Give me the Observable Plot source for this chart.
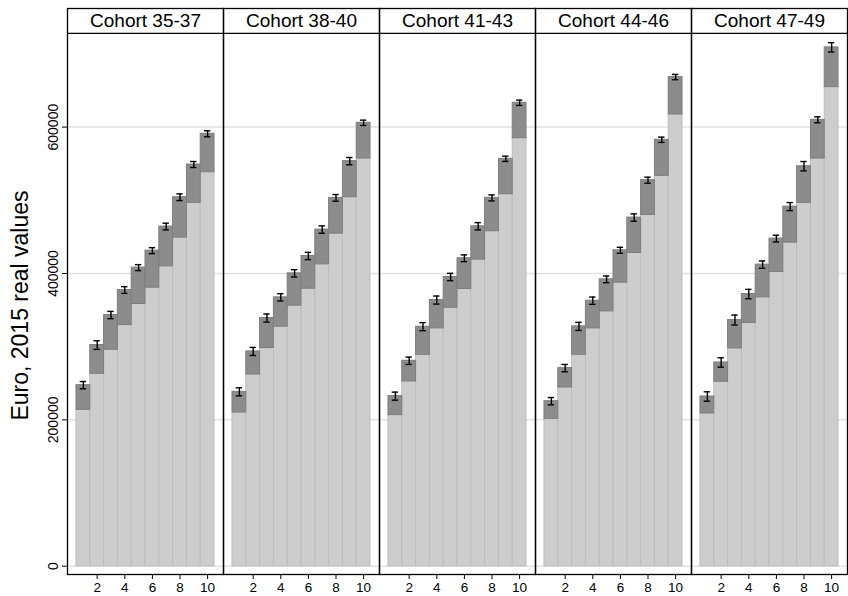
<!DOCTYPE html>
<html>
<head>
<meta charset="utf-8">
<script src="https://cdn.jsdelivr.net/npm/d3@7"></script>
<script src="https://cdn.jsdelivr.net/npm/@observablehq/plot@0.6"></script>
<style>
  html, body { margin: 0; padding: 0; background: #fff; }
  #chart svg { display: block; }
</style>
</head>
<body>
<div id="chart"></div>
<script>
// Facet categories
const cohorts = ["35-37", "38-40", "41-43", "44-46", "47-49"];
const deciles = [1, 2, 3, 4, 5, 6, 7, 8, 9, 10];

// Lower (light grey) component, by cohort
const base3537 = [213700, 262900, 295800, 329500, 358300, 380600, 409800, 449000, 496500, 538400];
const base3840 = [210000, 262000, 298100, 327300, 356000, 379200, 412500, 454500, 504200, 557100];
const base4143 = [206400, 252500, 288900, 325000, 353200, 378800, 418900, 457700, 508300, 584900];
const base4446 = [201400, 244200, 288900, 325000, 348200, 387500, 428000, 480000, 533400, 617300];
const base4749 = [208700, 252000, 297600, 332300, 367400, 402100, 442200, 496500, 557100, 654700];

// Total (top of dark grey segment), by cohort
const total3537 = [247400, 302200, 343200, 377400, 408000, 431200, 464100, 504200, 548900, 590900];
const total3840 = [238300, 293500, 339100, 367400, 400200, 423900, 460000, 503300, 553500, 605900];
const total4143 = [232400, 280700, 327300, 363700, 395200, 420800, 464500, 503300, 556700, 633300];
const total4446 = [225500, 270700, 327700, 362800, 392000, 431700, 476400, 527500, 582700, 668400];
const total4749 = [231900, 278400, 336400, 371900, 412100, 447700, 491400, 546600, 610000, 709000];

// Half-width of the confidence interval around the total
const err3537 = [5000, 5900, 5000, 4600, 4100, 4100, 4600, 4600, 4100, 4100];
const err3840 = [5500, 5500, 5500, 5000, 5000, 5000, 5000, 4600, 5000, 3600];
const err4143 = [5500, 5000, 5500, 5500, 5000, 4600, 5000, 4100, 3600, 3600];
const err4446 = [5000, 5000, 5500, 5000, 4600, 4100, 5000, 4100, 3600, 3600];
const err4749 = [6400, 6400, 6800, 6400, 5000, 4600, 5500, 6400, 4100, 6400];

// Tick labels
const xTicks = [2, 4, 6, 8, 10];
const yTicks = [0, 200000, 400000, 600000];
const yTitle = "Euro, 2015 real values";

const baseList = [base3537, base3840, base4143, base4446, base4749];
const totalList = [total3537, total3840, total4143, total4446, total4749];
const errList = [err3537, err3840, err4143, err4446, err4749];

const rows = [];
cohorts.forEach((c, ci) => {
  deciles.forEach((d, di) => {
    rows.push({
      cohort: c,
      decile: d,
      base: baseList[ci][di],
      total: totalList[ci][di],
      err: errList[ci][di]
    });
  });
});

// Layout constant: value at which the facet header strip begins
const headerBottom = 728000;
const font = "'Liberation Sans', Arial, Helvetica, sans-serif";

const chart = Plot.plot({
  width: 848,
  height: 596,
  marginLeft: 66,
  marginRight: 0,
  marginTop: 8,
  marginBottom: 22,
  style: { fontFamily: font, background: "#fff", color: "#000" },
  fx: { domain: cohorts, padding: 0, axis: null },
  x: { domain: [-0.15, 11.15] },
  y: { domain: [-11340, 762100] },
  marks: [
    Plot.ruleY(yTicks, { stroke: "#e2e2e2", strokeWidth: 1.5 }),
    Plot.rect(rows, {
      fx: "cohort",
      x1: d => d.decile - 0.5, x2: d => d.decile + 0.5,
      y1: 0, y2: "base",
      fill: "#cdcdcd", stroke: "#bcbcbc", strokeWidth: 1
    }),
    Plot.rect(rows, {
      fx: "cohort",
      x1: d => d.decile - 0.5, x2: d => d.decile + 0.5,
      y1: "base", y2: "total",
      fill: "#8c8c8c", stroke: "#7e7e7e", strokeWidth: 1
    }),
    Plot.ruleX(rows, {
      fx: "cohort", x: "decile",
      y1: d => d.total - d.err, y2: d => d.total + d.err,
      stroke: "#000", strokeWidth: 1.4
    }),
    Plot.ruleY(rows, {
      fx: "cohort", x1: d => d.decile - 0.23, x2: d => d.decile + 0.23,
      y: d => d.total + d.err, stroke: "#000", strokeWidth: 1.4
    }),
    Plot.ruleY(rows, {
      fx: "cohort", x1: d => d.decile - 0.23, x2: d => d.decile + 0.23,
      y: d => d.total - d.err, stroke: "#000", strokeWidth: 1.4
    }),
    Plot.frame({ stroke: "#000", strokeWidth: 1.3 }),
    Plot.ruleY([headerBottom], { stroke: "#000", strokeWidth: 1.3 }),
    Plot.text(cohorts, {
      fx: d => d, text: d => "Cohort " + d,
      frameAnchor: "top", lineAnchor: "middle", textAnchor: "middle",
      dy: 12.5, fontSize: 19, fill: "#000"
    }),
    Plot.text([yTitle], {
      fx: () => cohorts[0], text: d => d,
      frameAnchor: "left", textAnchor: "middle", lineAnchor: "middle",
      rotate: -90, dx: -47, dy: 14,
      fontSize: 23, fill: "#000"
    }),
    Plot.axisX(xTicks, {
      anchor: "bottom", tickSize: 5, tickPadding: 3, fontSize: 13.5, label: null
    }),
    Plot.axisY(yTicks, {
      anchor: "left", tickSize: 5, tickRotate: -90, tickPadding: 5,
      fontSize: 14, label: null, tickFormat: d => String(d)
    })
  ]
});

document.getElementById("chart").appendChild(chart);
</script>
</body>
</html>
